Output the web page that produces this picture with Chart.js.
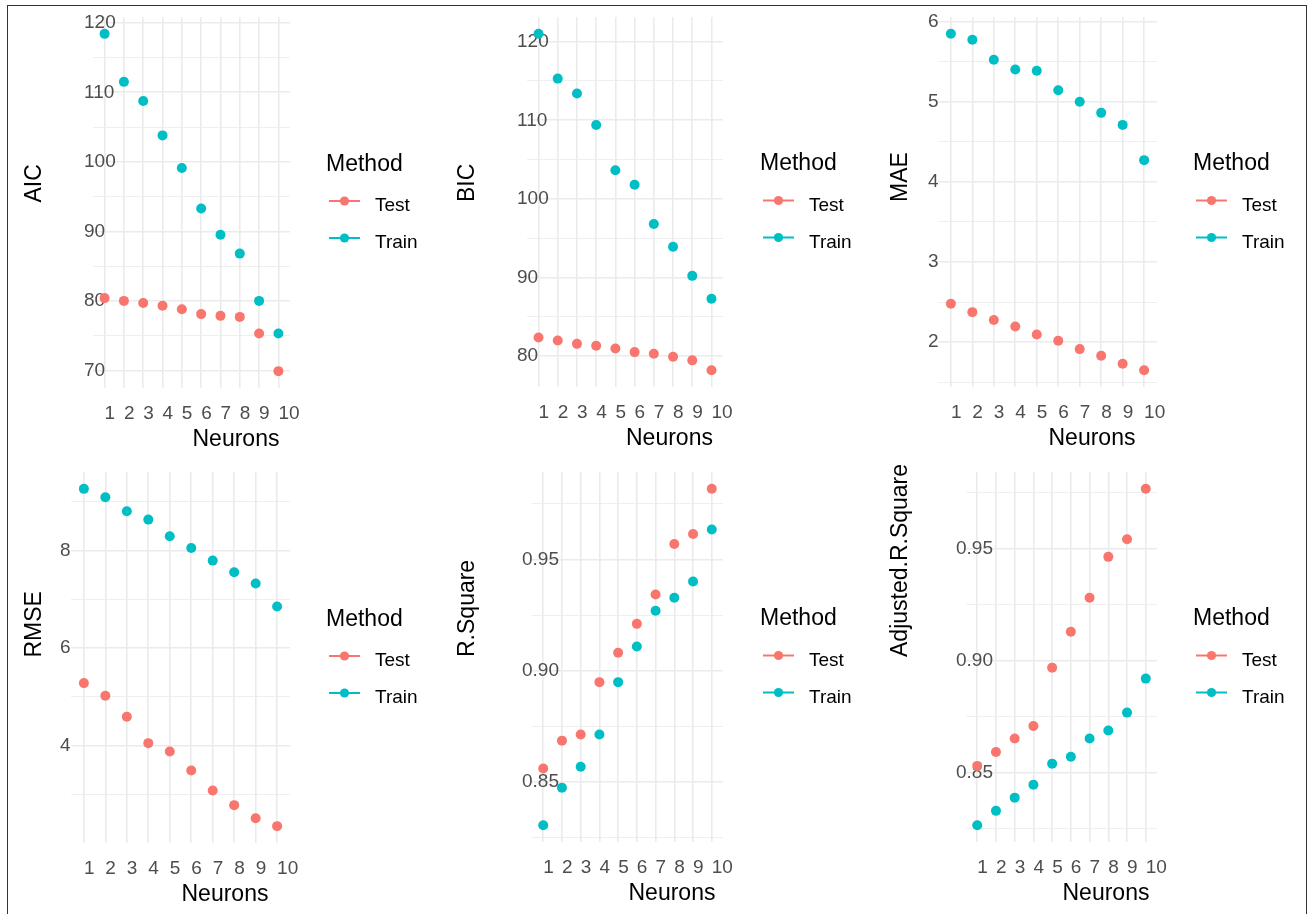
<!DOCTYPE html>
<html><head><meta charset="utf-8">
<script src="https://cdn.jsdelivr.net/npm/chart.js@4.4.1/dist/chart.umd.min.js"></script>
<style>
html,body{margin:0;padding:0;background:#fff;}
body{width:1308px;height:914px;position:relative;overflow:hidden;}
canvas{position:absolute;}
#frame{position:absolute;left:7px;top:5px;width:1298px;height:960px;border:1px solid #333;pointer-events:none;z-index:5;}
</style></head><body>
<div id="frame"></div>
<canvas id="c0"></canvas><canvas id="c1"></canvas><canvas id="c2"></canvas>
<canvas id="c3"></canvas><canvas id="c4"></canvas><canvas id="c5"></canvas>
<script>
// ---- data ----
const neurons = [1,2,3,4,5,6,7,8,9,10];
const methods = ['Test','Train'];

const aicTest  = [80.4,80.0,79.7,79.3,78.8,78.1,77.85,77.7,75.3,69.9];
const aicTrain = [118.4,111.5,108.75,103.8,99.1,93.3,89.5,86.8,80.0,75.3];

const bicTest  = [82.35,81.97,81.55,81.3,80.95,80.5,80.3,79.9,79.45,78.2];
const bicTrain = [121.0,115.3,113.4,109.4,103.65,101.8,96.8,93.9,90.2,87.3];

const maeTest  = [2.478,2.374,2.275,2.195,2.095,2.017,1.913,1.83,1.73,1.65];
const maeTrain = [5.846,5.771,5.522,5.40,5.385,5.143,4.998,4.86,4.71,4.27];

const rmseTest  = [5.28,5.02,4.59,4.05,3.88,3.49,3.08,2.78,2.51,2.35];
const rmseTrain = [9.26,9.09,8.80,8.63,8.29,8.05,7.79,7.55,7.32,6.85];

const rsqTest  = [0.8561,0.8686,0.8714,0.8949,0.9081,0.9211,0.9343,0.9570,0.9615,0.9818];
const rsqTrain = [0.8306,0.8474,0.8569,0.8714,0.8949,0.9109,0.9270,0.9328,0.9401,0.9635];

const adjRsqTest  = [0.8530,0.8592,0.8652,0.8708,0.8969,0.9129,0.9281,0.9464,0.9543,0.9768];
const adjRsqTrain = [0.8265,0.8329,0.8388,0.8446,0.8540,0.8571,0.8652,0.8688,0.8768,0.8920];

const aicTicks  = ['70','80','90','100','110','120'];
const bicTicks  = ['80','90','100','110','120'];
const maeTicks  = ['2','3','4','5','6'];
const rmseTicks = ['4','6','8'];
const rsqTicks  = ['0.85','0.90','0.95'];
const adjTicks  = ['0.85','0.90','0.95'];

const xTitle = 'Neurons';
const legendTitle = 'Method';

// ---- layout (page coordinates) ----
const panels = [
  {id:'c0', name:'AIC', test:aicTest, train:aicTrain, ticks:aicTicks, cell:[0,0,437,457], plot:[93,17,290,388], labelX:84, titleX:41, legendX:326},
  {id:'c1', name:'BIC', test:bicTest, train:bicTrain, ticks:bicTicks, cell:[437,0,873,457], plot:[527,17,723,387], labelX:517, titleX:474, legendX:760},
  {id:'c2', name:'MAE', test:maeTest, train:maeTrain, ticks:maeTicks, cell:[873,0,1308,457], plot:[938,17,1157,387], labelX:928, titleX:907, legendX:1193},
  {id:'c3', name:'RMSE', test:rmseTest, train:rmseTrain, ticks:rmseTicks, cell:[0,457,437,914], plot:[71,472,290,843], labelX:60, titleX:41, legendX:326},
  {id:'c4', name:'R.Square', test:rsqTest, train:rsqTrain, ticks:rsqTicks, cell:[437,457,873,914], plot:[532,472,723,842], labelX:522, titleX:474, legendX:760},
  {id:'c5', name:'Adjusted.R.Square', test:adjRsqTest, train:adjRsqTrain, ticks:adjTicks, cell:[873,457,1308,914], plot:[966,472,1157,842], labelX:956, titleX:907, legendX:1193}
];

const FAMILY = "'Liberation Sans', Arial, sans-serif";
const COLORS = {Test:'#F8766D', Train:'#00BFC4'};
const GRID = '#EBEBEB';

function yRange(a,b){
  const all = a.concat(b);
  const mn = Math.min(...all), mx = Math.max(...all);
  const e = (mx-mn)*0.05;
  return [mn-e, mx+e];
}
function makeYTicks(labels, min, max){
  const vals = labels.map(Number);
  const step = vals[1]-vals[0];
  const out = vals.map((v,i)=>({value:v, text:labels[i], minor:false}));
  vals.forEach(v=>{
    [v-step/2, v+step/2].forEach(m=>{
      if (m>=min && m<=max && !out.some(o=>Math.abs(o.value-m)<1e-9)) out.push({value:m, text:'', minor:true});
    });
  });
  out.sort((a,b)=>a.value-b.value);
  return out;
}

const overlay = {
  id:'ggOverlay',
  afterDraw(chart){
    const o = chart.options.plugins.ggOverlay;
    const {ctx, chartArea:ca} = chart;
    const cy = (ca.top+ca.bottom)/2, cx = (ca.left+ca.right)/2;
    ctx.save();
    ctx.fillStyle = '#000';
    ctx.font = '23px ' + FAMILY;
    ctx.textAlign = 'left';
    ctx.textBaseline = 'alphabetic';
    ctx.fillText(chart.options.scales.x.title.text, cx+1, ca.bottom+57.5);
    ctx.save();
    ctx.translate(o.titleX, cy);
    ctx.rotate(-Math.PI/2);
    ctx.fillText(chart.options.scales.y.title.text, 0, 0);
    ctx.restore();
    const lx = o.legendX;
    ctx.fillText(o.title, lx, cy-32);
    ctx.font = '19px ' + FAMILY;
    chart.data.datasets.forEach((ds,i)=>{
      const ky = cy - 1.5 + i*37;
      ctx.strokeStyle = ds.backgroundColor;
      ctx.lineWidth = 2;
      ctx.beginPath(); ctx.moveTo(lx+3, ky); ctx.lineTo(lx+34, ky); ctx.stroke();
      ctx.fillStyle = ds.backgroundColor;
      ctx.beginPath(); ctx.arc(lx+18.5, ky, 4.6, 0, Math.PI*2); ctx.fill();
      ctx.fillStyle = '#000';
      ctx.fillText(ds.label, lx+49, ky+10);
    });
    ctx.restore();
  }
};

panels.forEach(p=>{
  const [cx0, cy0, cx1, cy1] = p.cell;
  const cv = document.getElementById(p.id);
  cv.width = cx1-cx0; cv.height = cy1-cy0;
  cv.style.left = cx0+'px'; cv.style.top = cy0+'px';
  const [ymin, ymax] = yRange(p.test, p.train);
  const yTicks = makeYTicks(p.ticks, ymin, ymax);
  const series = {Test:p.test, Train:p.train};
  new Chart(cv, {
    type:'scatter',
    data:{datasets: methods.map(m=>({
      label:m,
      data: neurons.map((n,i)=>({x:n, y:series[m][i]})),
      backgroundColor: COLORS[m], borderColor: COLORS[m], borderWidth:0,
      pointRadius:5, pointHoverRadius:5
    }))},
    options:{
      responsive:false, animation:false, devicePixelRatio:1,
      events:[],
      layout:{padding:{left:p.labelX-cx0, top:p.plot[1]-cy0, right:cx1-p.plot[2], bottom:0}},
      plugins:{
        legend:{display:false}, tooltip:{enabled:false},
        ggOverlay:{titleX:p.titleX-cx0, legendX:p.legendX-cx0, title:legendTitle}
      },
      scales:{
        x:{type:'linear', position:'bottom', min:0.4, max:10.6,
          afterBuildTicks:s=>{ s.ticks = neurons.map(v=>({value:v})); },
          afterFit:s=>{ s.height = cy1 - p.plot[3]; },
          grid:{color:GRID, lineWidth:1.6, drawTicks:false},
          border:{display:false},
          ticks:{align:'start', maxRotation:0, minRotation:0, autoSkip:false, padding:14,
            color:'#4D4D4D', font:{family:FAMILY, size:19}, callback:v=>String(v)},
          title:{display:false, text:xTitle}
        },
        y:{type:'linear', position:'left', min:ymin, max:ymax,
          afterBuildTicks:s=>{ s.ticks = yTicks.map(t=>Object.assign({}, t)); },
          afterFit:s=>{ s.width = p.plot[0]-p.labelX; },
          grid:{color:GRID, lineWidth:c=>(c.tick && c.tick.minor) ? 0.8 : 1.6, drawTicks:false},
          border:{display:false},
          ticks:{mirror:true, crossAlign:'near', padding:p.labelX-p.plot[0], autoSkip:false, color:'#4D4D4D',
            font:{family:FAMILY, size:19}, callback:(v,i,t)=>t[i].text},
          title:{display:false, text:p.name}
        }
      }
    },
    plugins:[overlay]
  });
});
</script>
</body></html>
